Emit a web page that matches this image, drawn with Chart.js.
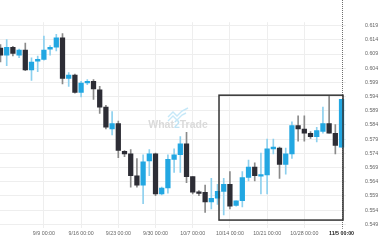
<!DOCTYPE html>
<html>
<head>
<meta charset="utf-8">
<script src="https://cdn.jsdelivr.net/npm/chart.js@4.4.1/dist/chart.umd.min.js"></script>
<style>
  html, body { margin: 0; padding: 0; background: #fff; }
</style>
</head>
<body>
<canvas id="myChart" width="380" height="250"></canvas>
<script>
// daily candles
const opens = [0.6111,0.6086,0.6114,0.6086,0.6104,0.6034,0.6065,0.6071,0.6107,0.6114,
  0.6147,0.6004,0.6016,0.5955,0.5988,0.5994,0.5964,0.5903,0.5826,0.5845,
  0.5747,0.5738,0.5661,0.5628,0.5713,0.5738,0.5597,0.5618,0.5719,0.5735,
  0.5774,0.5658,0.5603,0.5603,0.5569,0.5582,0.5606,0.5631,0.5557,0.5573,
  0.5655,0.5692,0.5660,0.5664,0.5756,0.5759,0.5701,0.5738,0.5838,0.5826,
  0.5811,0.5799,0.5817,0.5845,0.5811,0.5762];
const highs = [0.6123,0.6141,0.6117,0.6107,0.6129,0.6077,0.6083,0.6153,0.6120,0.6159,
  0.6162,0.6025,0.6019,0.5994,0.6000,0.6000,0.5976,0.5909,0.5887,0.5854,
  0.5750,0.5753,0.5722,0.5735,0.5753,0.5741,0.5621,0.5735,0.5756,0.5799,
  0.5814,0.5658,0.5609,0.5628,0.5652,0.5631,0.5652,0.5676,0.5573,0.5676,
  0.5716,0.5707,0.5741,0.5790,0.5790,0.5762,0.5759,0.5851,0.5872,0.5872,
  0.5817,0.5832,0.5903,0.5942,0.5841,0.5930];
const lows = [0.6062,0.6049,0.6083,0.6077,0.6031,0.5997,0.6028,0.6068,0.6086,0.6101,
  0.5985,0.5976,0.5952,0.5939,0.5982,0.5930,0.5881,0.5826,0.5805,0.5725,
  0.5728,0.5621,0.5621,0.5563,0.5661,0.5591,0.5594,0.5600,0.5673,0.5673,
  0.5637,0.5597,0.5591,0.5532,0.5544,0.5560,0.5523,0.5544,0.5554,0.5551,
  0.5643,0.5643,0.5597,0.5597,0.5738,0.5652,0.5667,0.5722,0.5783,0.5783,
  0.5793,0.5780,0.5811,0.5811,0.5738,0.5762];
const closes = [0.6086,0.6114,0.6092,0.6104,0.6034,0.6062,0.6071,0.6104,0.6114,0.6147,
  0.6004,0.6016,0.5955,0.5988,0.5994,0.5967,0.5903,0.5832,0.5845,0.5750,
  0.5738,0.5661,0.5628,0.5710,0.5738,0.5597,0.5618,0.5719,0.5735,0.5774,
  0.5658,0.5603,0.5599,0.5569,0.5582,0.5606,0.5631,0.5554,0.5573,0.5655,
  0.5692,0.5661,0.5664,0.5756,0.5762,0.5701,0.5738,0.5838,0.5826,0.5811,
  0.5799,0.5820,0.5845,0.5811,0.5768,0.5930];

// x tick positions (candle index) and their labels
const tickIndex = [7, 13, 19, 25, 31, 37, 43, 49, 55];
const tickLabels = ['9/9 00:00', '9/16 00:00', '9/23 00:00', '9/30 00:00', '10/7 00:00',
  '10/14 00:00', '10/21 00:00', '10/28 00:00', '11/5 00:00'];
const yTicks = [0.549, 0.554, 0.559, 0.564, 0.569, 0.574, 0.579, 0.584,
  0.589, 0.594, 0.599, 0.604, 0.609, 0.614, 0.619];

// highlighted range box (candle index / price)
const boxIndex = [35.24, 55.24];
const boxPrice = [0.5505, 0.5945];

const BULL = '#22a7e2', BEAR = '#2d2d35';
const BULL_WICK = '#8dd0ee', BEAR_WICK = '#8a8a8a';

const isUp = closes.map((c, i) => c >= opens[i]);
const lastIdx = closes.length - 1;

const overlay = {
  id: 'overlay',
  beforeDatasetsDraw(chart) {
    const c = chart.ctx;
    const xs = chart.scales.x;
    const area = chart.chartArea;
    c.save();
    // watermark
    c.font = 'bold 10.5px Arial';
    c.textBaseline = 'middle';
    const parts = [['What', '#dadada'], ['2', '#bfe3f4'], ['Trade', '#dadada']];
    let total = 0;
    parts.forEach(p => total += c.measureText(p[0]).width);
    let tx = 178 - total / 2;
    parts.forEach(p => {
      c.fillStyle = p[1];
      c.fillText(p[0], tx, 125);
      tx += c.measureText(p[0]).width;
    });
    c.strokeStyle = '#c6e8f8';
    c.lineWidth = 1.4;
    c.beginPath();
    c.moveTo(168, 117); c.lineTo(173, 112); c.lineTo(177, 116); c.lineTo(182, 111); c.lineTo(188, 108);
    c.moveTo(168, 121); c.lineTo(173, 116); c.lineTo(177, 120); c.lineTo(182, 115); c.lineTo(186, 113);
    c.stroke();
    // current candle marker
    const px = Math.round(xs.getPixelForValue(lastIdx)) + 0.5;
    c.strokeStyle = '#6f6f6f';
    c.lineWidth = 1;
    c.setLineDash([1, 1]);
    c.beginPath();
    c.moveTo(px, 0);
    c.lineTo(px, area.bottom + 1);
    c.stroke();
    c.restore();
  },
  afterDatasetsDraw(chart) {
    const c = chart.ctx;
    const xs = chart.scales.x, ys = chart.scales.y;
    const x1 = xs.getPixelForValue(boxIndex[0]), x2 = xs.getPixelForValue(boxIndex[1]);
    const y1 = ys.getPixelForValue(boxPrice[1]), y2 = ys.getPixelForValue(boxPrice[0]);
    c.save();
    c.strokeStyle = '#333333';
    c.lineWidth = 1.5;
    c.strokeRect(x1, y1, x2 - x1, y2 - y1);
    c.restore();
  }
};

const ctx = document.getElementById('myChart').getContext('2d');
new Chart(ctx, {
  type: 'bar',
  data: {
    datasets: [
      {
        label: 'body',
        data: opens.map((o, i) => ({ x: i, y: [o, closes[i]] })),
        backgroundColor: isUp.map(u => u ? BULL : BEAR),
        barThickness: 4.6,
        minBarLength: 1.5,
        grouped: false,
        order: 0
      },
      {
        label: 'wick',
        data: lows.map((l, i) => ({ x: i, y: [l, highs[i]] })),
        backgroundColor: isUp.map(u => u ? BULL_WICK : BEAR_WICK),
        barThickness: 1,
        grouped: false,
        order: 1
      }
    ]
  },
  options: {
    responsive: false,
    animation: false,
    devicePixelRatio: 1,
    layout: { padding: 0 },
    plugins: { legend: { display: false }, tooltip: { enabled: false } },
    scales: {
      x: {
        type: 'linear',
        min: -0.08,
        max: 55.72,
        offset: false,
        afterBuildTicks: s => { s.ticks = tickIndex.map(v => ({ value: v })); },
        afterFit: s => { s.height = 13; },
        border: { display: false },
        grid: {
          offset: false,
          drawTicks: false,
          color: c => c.index === tickIndex.length - 1 ? 'rgba(0,0,0,0)' : '#eeeeee'
        },
        ticks: {
          autoSkip: false,
          maxRotation: 0,
          padding: 3,
          callback: (v, i) => tickLabels[i],
          color: c => c.index === tickIndex.length - 1 ? '#222' : '#666',
          font: c => ({ family: 'Arial', size: 5.3, weight: c.index === tickIndex.length - 1 ? 'bold' : 'normal' })
        }
      },
      y: {
        position: 'right',
        min: 0.54777,
        max: 0.62022,
        afterBuildTicks: s => { s.ticks = yTicks.map(v => ({ value: v })); },
        afterFit: s => { s.width = 34; },
        border: { display: false },
        grid: { drawTicks: false, color: '#eeeeee' },
        ticks: {
          padding: 19,
          color: '#666',
          font: { family: 'Arial', size: 5.3 },
          callback: v => v.toFixed(3)
        }
      }
    }
  },
  plugins: [overlay]
});
</script>
</body>
</html>
